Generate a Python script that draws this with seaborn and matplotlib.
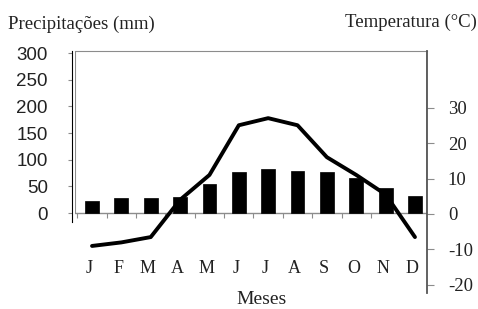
import matplotlib
matplotlib.use("Agg")
import matplotlib.pyplot as plt
import matplotlib.transforms as mtransforms
import seaborn as sns
import pandas as pd
import numpy as np

months = ["J", "F", "M", "A", "M", "J", "J", "A", "S", "O", "N", "D"]
precip = [23, 28, 28, 30, 54, 76, 82, 79, 77, 65, 47, 32]
temp = [-9, -8, -6.5, 4, 11, 25, 27, 25, 16, 11, 5.5, -6.5]
precip_ticks = [0, 50, 100, 150, 200, 250, 300]
temp_ticks = [-20, -10, 0, 10, 20, 30]

sns.set_style("white")
serif = "Liberation Serif"
sans = "Liberation Sans"
plt.rcParams["font.family"] = [serif, "DejaVu Serif"]

df = pd.DataFrame({"mes": range(12), "precip": precip, "temp": temp})

fig = plt.figure(figsize=(4.78, 3.09), dpi=100)
ax = fig.add_axes([75 / 478, 1 - 295 / 309, 352 / 478, 244 / 309])

sns.barplot(data=df, x="mes", y="precip", color="black", width=0.47,
            saturation=1, edgecolor="black", linewidth=0.5, ax=ax)
ax.set_xlim(-0.58, 11.41)
ax.set_ylim(-153.75, 303.75)
ax.set_xlabel("")
ax.set_ylabel("")
ax.set_xticks([])

# caixa do grafico
grey = "#8c8c8c"
ax.axhline(0, color=grey, lw=1, zorder=0)
ax.axvline(-0.58, ymin=153.75 / 457.5, ymax=1, color=grey, lw=1.5)
ax.axvline(11.41, ymin=153.75 / 457.5, ymax=1, color="black", lw=1)
ax.vlines(np.arange(13) - 0.5, -9, 0, color=grey, lw=0.8)
ax.spines["bottom"].set_visible(False)
ax.spines["right"].set_visible(False)
ax.spines["top"].set_color(grey)
ax.spines["left"].set_color("black")
ax.spines["left"].set_position(("outward", 2.5))
ax.spines["left"].set_bounds(-17, 303.75)
ax.set_yticks(precip_ticks)
ax.set_yticklabels([str(v) for v in precip_ticks], fontfamily=sans)
ax.tick_params(axis="y", left=True, direction="out", length=3, width=0.8,
               color=grey, labelsize=13.5, pad=14, labelcolor="#222222")

trans = mtransforms.blended_transform_factory(ax.transData, ax.transAxes)
for i, m in enumerate(months):
    ax.text(i - 0.1, 0.107, m, transform=trans, ha="center", va="center",
            fontsize=13, color="#222222")

ax2 = ax.twinx()
sns.lineplot(data=df, x="mes", y="temp", color="black", lw=2.8, ax=ax2)
ax2.set_ylim(-22.82, 45.92)
ax2.set_xlim(-0.58, 11.41)
ax2.set_xlabel("")
ax2.set_ylabel("")
for s in ["top", "left", "bottom"]:
    ax2.spines[s].set_visible(False)
ax2.spines["right"].set_color("#555555")
ax2.spines["right"].set_linewidth(1.3)
ax2.spines["right"].set_bounds(-22.3, 45.92)
ax2.set_yticks(temp_ticks)
ax2.set_yticklabels([str(v) for v in temp_ticks])
ax2.tick_params(axis="y", right=True, direction="out", length=5, width=0.8,
                color=grey, labelsize=13.5, pad=10, labelcolor="#222222")

fig.text(8 / 478, 1 - 24 / 309, "Precipitações (mm)", ha="left",
         va="center", fontsize=13.5, color="#222222")
fig.text(477 / 478, 1 - 22 / 309, "Temperatura (°C)", ha="right",
         va="center", fontsize=13.5, color="#222222")
fig.text(262 / 478, 1 - 299 / 309, "Meses", ha="center", va="center",
         fontsize=14, color="#222222")

fig.savefig("out.png", dpi=100, facecolor="white")
